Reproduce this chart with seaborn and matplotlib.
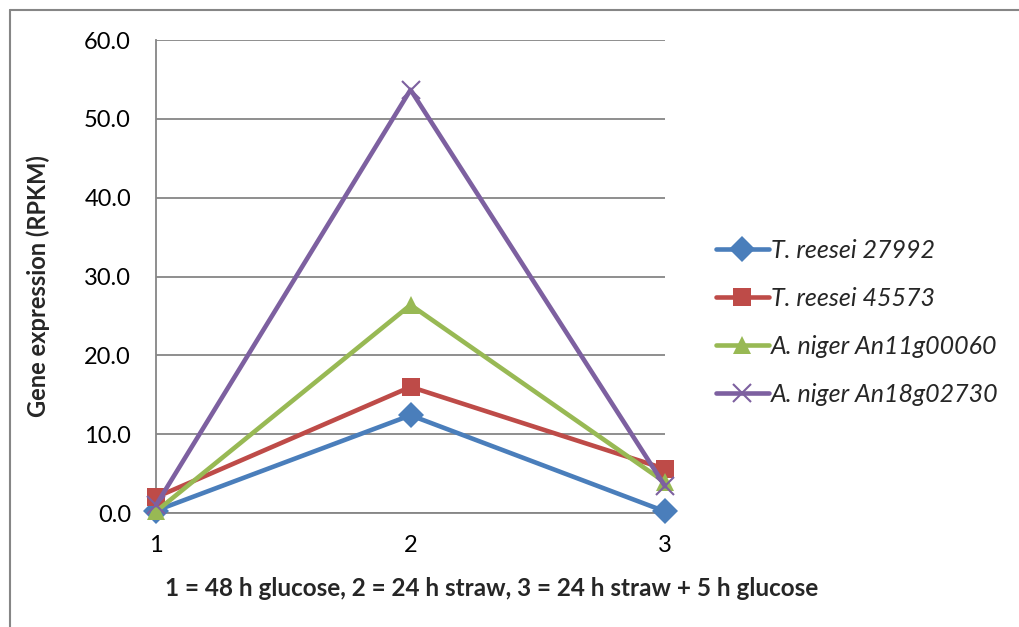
#gene expression line chart
#RPKM values for four genes under three growth conditions

import matplotlib.pyplot as plt
import matplotlib.lines as mlines
import pandas as pd
import seaborn as sea

#chart data
conditions = [1, 2, 3]
genes = ['T. reesei 27992', 'T. reesei 45573', 'A. niger An11g00060', 'A. niger An18g02730']
tr_27992 = [0.3, 12.4, 0.2]
tr_45573 = [2.0, 16.0, 5.6]
an_00060 = [0.2, 26.4, 3.9]
an_02730 = [1.0, 53.7, 3.4]
y_ticks = [0, 10, 20, 30, 40, 50, 60]

#styles per gene
colors = ['#4A7EBB', '#BE4B48', '#98B954', '#7D60A0']
markers = ['D', 's', '^', 'x']

sea.set_style('white')
plt.rcParams['font.family'] = ['Lato', 'DejaVu Sans']

#long form table for seaborn
df = pd.DataFrame({
    'condition': conditions * 4,
    'rpkm': tr_27992 + tr_45573 + an_00060 + an_02730,
    'gene': [g for g in genes for _ in conditions],
})

fig = plt.figure(figsize=(10.2, 6.27), dpi=100)
ax = fig.add_axes([0.153, 0.1818, 0.499, 0.7542])

for gene, col, mk in zip(genes, colors, markers):
    sub = df[df['gene'] == gene]
    sea.lineplot(x='condition', y='rpkm', data=sub, ax=ax, color=col, linewidth=3.3,
                 marker=mk, markersize=13, markeredgecolor=col,
                 markeredgewidth=1.5 if mk == 'x' else 0,
                 label=gene, legend=False, zorder=3, clip_on=False)

#axes look
ax.set_xlim(1, 3)
ax.set_ylim(0, 60)
ax.set_xticks(conditions)
ax.set_yticks(y_ticks)
ax.set_yticklabels([f'{v:.1f}' for v in y_ticks])
ax.grid(axis='y', color='#868686', linewidth=1.3)
ax.set_axisbelow(True)
for side in ['top', 'right']:
    ax.spines[side].set_visible(False)
for side in ['left', 'bottom']:
    ax.spines[side].set_color('#868686')
    ax.spines[side].set_linewidth(1.3)
ax.tick_params(axis='x', direction='out', length=7, width=1.3, color='#868686', labelsize=17, pad=9)
ax.tick_params(axis='y', length=0, labelsize=17, pad=18)
for lab in ax.get_xticklabels() + ax.get_yticklabels():
    lab.set_color('black')

#axis titles, placed like the original chart
ax.set_xlabel('1 = 48 h glucose, 2 = 24 h straw, 3 = 24 h straw + 5 h glucose',
              fontsize=17.5, fontweight='bold', va='center')
ax.xaxis.set_label_coords(0.66, -0.159)
ax.set_ylabel('Gene expression (RPKM)', fontsize=17, fontweight='bold', va='center')
ax.yaxis.set_label_coords(-0.232, 0.48)

#legend to the right
handles = [mlines.Line2D([], [], color=c, marker=m, markersize=13, linewidth=3.3,
                         markeredgecolor=c, markeredgewidth=1.5 if m == 'x' else 0)
           for c, m in zip(colors, markers)]
leg = fig.legend(handles, genes, loc='center left', bbox_to_anchor=(0.68, 0.486),
                 frameon=False, fontsize=18, handlelength=2.1, handletextpad=0.1,
                 labelspacing=1.0, numpoints=1)
for t in leg.get_texts():
    t.set_fontstyle('italic')

#outer chart border (left and top only)
fig.add_artist(mlines.Line2D([0.0098, 0.0098], [0, 0.984], color='#868686', linewidth=1.5))
fig.add_artist(mlines.Line2D([0.0098, 1], [0.984, 0.984], color='#868686', linewidth=1.5))

plt.savefig('out.png', dpi=100)
